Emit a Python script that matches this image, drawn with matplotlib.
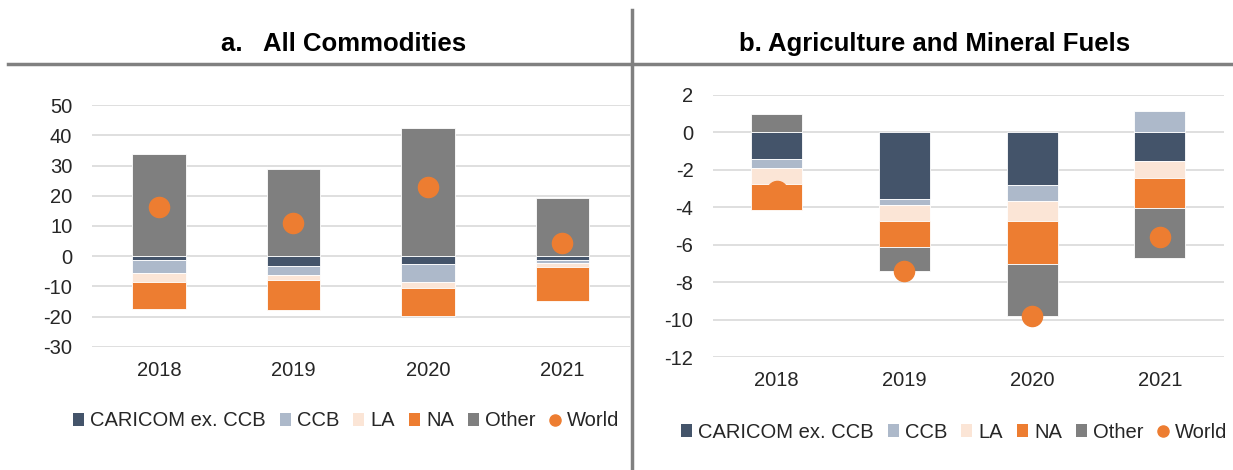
#!/usr/bin/env python3

import numpy as np
import matplotlib.pyplot as plt
from matplotlib.patches import Patch
from matplotlib.lines import Line2D

plt.rcParams[ 'font.family' ] = [ 'Liberation Sans', 'DejaVu Sans' ]
plt.rcParams[ 'axes.unicode_minus' ] = False

years = [ '2018', '2019', '2020', '2021' ]
series = [ 'CARICOM ex. CCB', 'CCB', 'LA', 'NA', 'Other' ]
colors = [ '#44546A', '#ADB9CA', '#FBE5D6', '#ED7D31', '#7F7F7F' ]
worldColor = '#ED7D31'

# a. All Commodities
caricomA = [ -1.3, -3.4, -2.6, -1.4 ]
ccbA     = [ -4.4, -2.7, -6.0, -0.8 ]
laA      = [ -2.7, -1.9, -1.9, -1.3 ]
naA      = [ -9.2, -9.9, -9.3, -11.3 ]
otherA   = [ 33.9, 29.0, 42.6, 19.3 ]
worldA   = [ 16.3, 11.0, 22.8, 4.5 ]

# b. Agriculture and Mineral Fuels
caricomB = [ -1.41, -3.56, -2.79, -1.51 ]
ccbB     = [ -0.50, -0.30, -0.86, 1.12 ]
laB      = [ -0.82, -0.84, -1.10, -0.91 ]
naB      = [ -1.39, -1.39, -2.26, -1.60 ]
otherB   = [ 0.96, -1.30, -2.78, -2.69 ]
worldB   = [ -3.1, -7.38, -9.79, -5.59 ]

W, H = 1233, 470
fig = plt.figure( figsize = ( W / 100, H / 100 ), dpi = 100 )

def stacked( ax, data, world ):
    x = np.arange( len( years ) )
    pos = np.zeros( len( years ) )
    neg = np.zeros( len( years ) )
    for vals, col in zip( data, colors ):
        vals = np.array( vals )
        bottom = np.where( vals >= 0, pos, neg )
        ax.bar( x, vals, 0.40, bottom = bottom, color = col,
                edgecolor = 'white', linewidth = 0.6, zorder = 2 )
        pos = pos + np.where( vals >= 0, vals, 0 )
        neg = neg + np.where( vals < 0, vals, 0 )
    ax.plot( x, world, 'o', color = worldColor, markersize = 14.5,
             linestyle = 'none', zorder = 3 )
    ax.set_xlim( -0.5, 3.5 )
    ax.set_xticks( x )
    ax.set_xticklabels( years )
    for s in ax.spines.values():
        s.set_visible( False )
    ax.yaxis.grid( True, color = '#D9D9D9', linewidth = 1.2, zorder = 0 )
    ax.set_axisbelow( True )
    ax.tick_params( axis = 'y', length = 0, pad = 14, labelsize = 14.5,
                    labelcolor = '#262626' )
    ax.tick_params( axis = 'x', length = 0, pad = 10, labelsize = 14.5,
                    labelcolor = '#262626' )

axA = fig.add_axes( [ 91.7 / W, 1 - 346.7 / H, 538.0 / W, 241.4 / H ] )
stacked( axA, [ caricomA, ccbA, laA, naA, otherA ], worldA )
axA.set_ylim( -30, 50 )
axA.set_yticks( np.arange( -30, 51, 10 ) )

axB = fig.add_axes( [ 712.9 / W, 1 - 357.3 / H, 510.8 / W, 262.3 / H ] )
stacked( axB, [ caricomB, ccbB, laB, naB, otherB ], worldB )
axB.set_ylim( -12, 2 )
axB.set_yticks( np.arange( -12, 3, 2 ) )

# titles and separator lines
fig.text( 344 / W, 1 - 44 / H, 'a.   All Commodities', ha = 'center',
          va = 'center', fontsize = 18.5, fontweight = 'bold' )
fig.text( 935 / W, 1 - 44 / H, 'b. Agriculture and Mineral Fuels',
          ha = 'center', va = 'center', fontsize = 18.5, fontweight = 'bold' )
fig.add_artist( Line2D( [ 8 / W, 1 ], [ 1 - 64 / H, 1 - 64 / H ],
                        color = '#808080', linewidth = 2.5 ) )
fig.add_artist( Line2D( [ 632 / W, 632 / W ], [ 0, 1 - 10 / H ],
                        color = '#808080', linewidth = 2.5 ) )

handles = [ Patch( facecolor = c, label = s ) for s, c in zip( series, colors ) ]
handles.append( Line2D( [], [], marker = 'o', color = worldColor,
                        linestyle = 'none', markersize = 8, label = 'World' ) )

for cx, cy in [ ( 346 / W, 1 - 421 / H ), ( 954 / W, 1 - 432 / H ) ]:
    fig.legend( handles = handles, loc = 'center', bbox_to_anchor = ( cx, cy ),
                ncol = 6, frameon = False, fontsize = 14.5,
                handlelength = 0.55, handleheight = 0.6, handletextpad = 0.3,
                columnspacing = 0.7, labelcolor = '#262626' )

plt.savefig( 'out.png', dpi = 100 )
plt.close()
